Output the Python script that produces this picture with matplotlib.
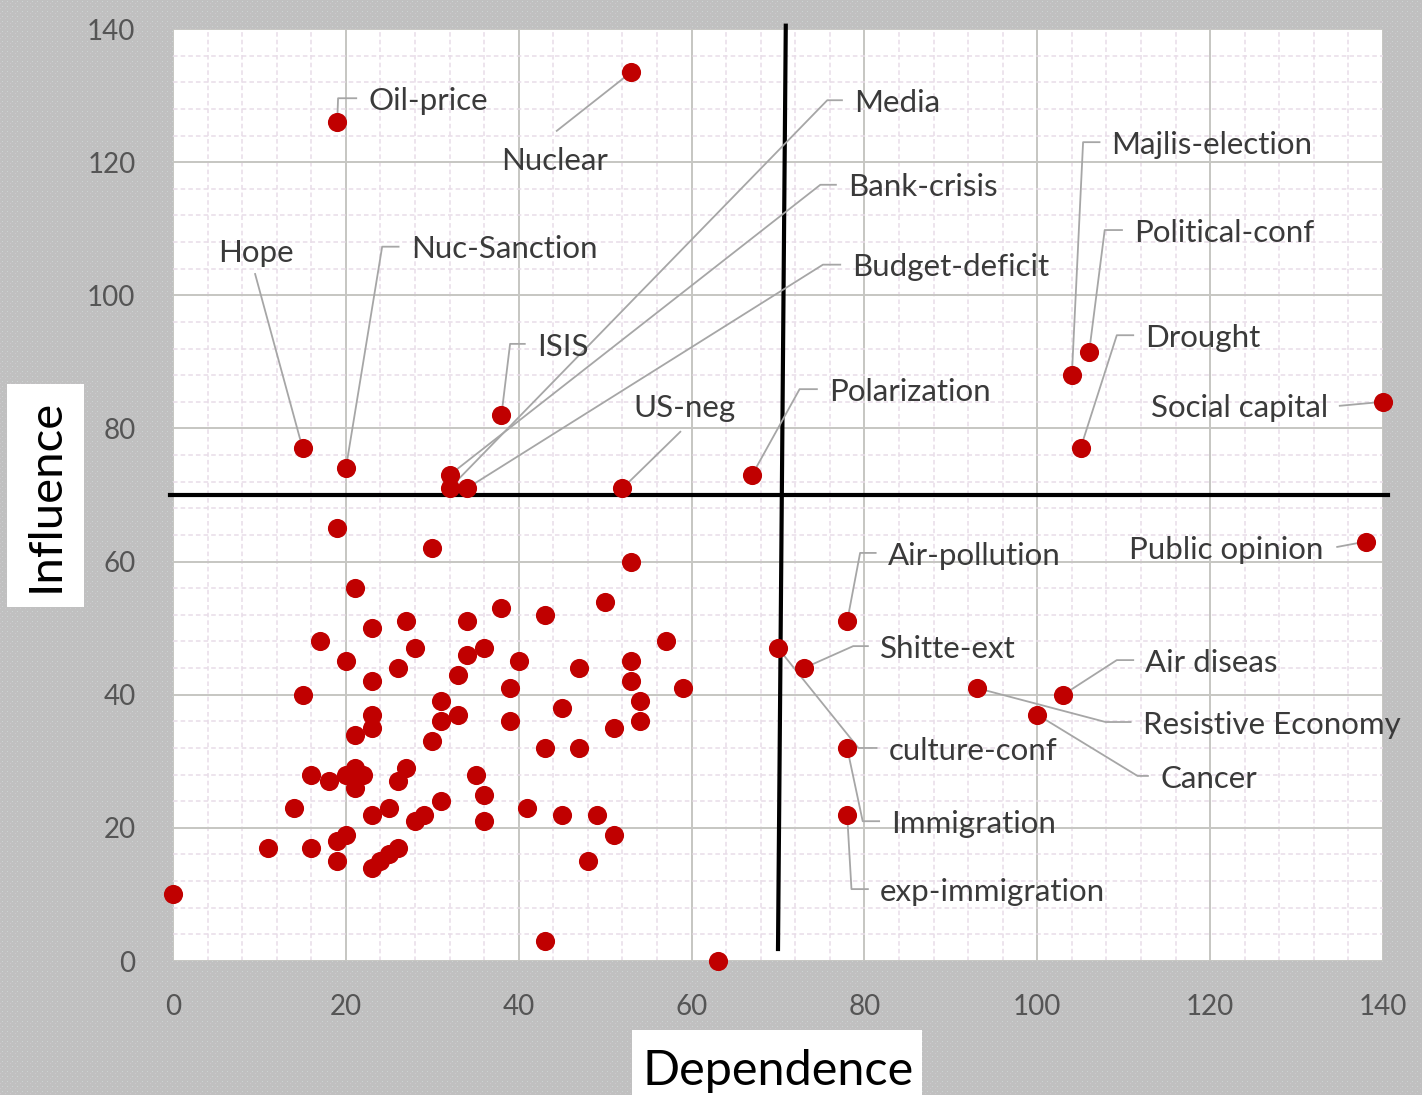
import numpy as np
import matplotlib
matplotlib.use('Agg')
from matplotlib import pyplot as plt
from matplotlib.patches import Rectangle
from matplotlib.ticker import MultipleLocator

plt.rcParams['font.family'] = ['Lato', 'DejaVu Sans']

# 标注的变量 (名称, 依赖度, 影响度)
names = ['Oil-price', 'Nuclear', 'Hope', 'Nuc-Sanction', 'ISIS', 'Media',
         'Bank-crisis', 'Budget-deficit', 'US-neg', 'Polarization',
         'Majlis-election', 'Political-conf', 'Drought', 'Social capital',
         'Public opinion', 'Air-pollution', 'Shitte-ext', 'culture-conf',
         'Immigration', 'exp-immigration', 'Air diseas', 'Resistive Economy',
         'Cancer']
named_dep = [19, 53, 15, 20, 38, 32, 32, 34, 52, 67, 104, 106, 105, 140,
             138, 78, 73, 70, 78, 78, 103, 93, 100]
named_inf = [126, 133.5, 77, 74, 82, 71, 73, 71, 71, 73, 88, 91.5, 77, 84,
             63, 51, 44, 47, 32, 22, 40, 41, 37]

# 未标注的变量
other_dep = [19, 30, 53, 21, 38, 50, 43, 23, 27, 34, 17, 28, 34, 36, 20, 40,
             57, 53, 47, 26, 33, 23, 53, 59, 39, 15, 54, 31, 45, 33, 31, 39,
             54, 23, 23, 21, 51, 30, 43, 47, 16, 18, 20, 21, 22, 21, 27, 26,
             35, 36, 14, 23, 25, 31, 28, 29, 36, 41, 45, 49, 51, 48, 20, 19,
             11, 16, 19, 23, 24, 25, 26, 0, 43, 63]
other_inf = [65, 62, 60, 56, 53, 54, 52, 50, 51, 51, 48, 47, 46, 47, 45, 45,
             48, 45, 44, 44, 43, 42, 42, 41, 41, 40, 39, 39, 38, 37, 36, 36,
             36, 37, 35, 34, 35, 33, 32, 32, 28, 27, 28, 29, 28, 26, 29, 27,
             28, 25, 23, 22, 23, 24, 21, 22, 21, 23, 22, 22, 19, 15, 19, 18,
             17, 17, 15, 14, 15, 16, 17, 10, 3, 0]

cut = 70  # 象限分界

# 标签位置: (文字x, 文字y, 对齐, 引线折点x 或 None)
label_pos = [
    (22.6, 129.6, 'left', 19.1), (44.2, 120.5, 'center', None),
    (5.2, 106.8, 'left', None), (27.5, 107.3, 'left', 24.2),
    (42.1, 92.7, 'left', 39.0), (78.8, 129.3, 'left', 75.7),
    (78.1, 116.6, 'left', 74.9), (78.6, 104.6, 'left', 75.2),
    (53.3, 83.4, 'left', None), (75.9, 85.9, 'left', 72.5),
    (108.6, 123.0, 'left', 105.3), (111.2, 109.8, 'left', 107.8),
    (112.5, 94.0, 'left', 109.2), (133.6, 83.4, 'right', None),
    (133.1, 62.2, 'right', None), (82.7, 61.3, 'left', 79.5),
    (81.8, 47.3, 'left', 78.7), (82.8, 32.0, 'left', 79.3),
    (83.1, 21.0, 'left', 79.8), (81.8, 10.8, 'left', 78.5),
    (112.5, 45.2, 'left', 109.2), (112.2, 35.9, 'left', 107.9),
    (114.2, 27.8, 'left', 111.6),
]
# 无折点的引线起点
leader_start = {1: (44.4, 124.7), 2: (9.5, 103.2), 8: (58.7, 79.5),
                13: (135.0, 83.4), 14: (134.7, 62.2)}

W, H = 1422, 1095
fig = plt.figure(figsize=(W / 100, H / 100), dpi=100)

# 灰色点状背景
bg = np.full((H, W, 3), 0.753)
bg[1::5, 2::5] = [0.80, 0.83, 0.83]
bg[3::5, 0::5] = [0.80, 0.78, 0.80]
fig.figimage(bg, 0, 0, zorder=-10)

ax = fig.add_axes([173 / W, 1 - 961 / H, 1210 / W, 932 / H])
ax.set_facecolor('white')
ax.set_xlim(0, 140)
ax.set_ylim(0, 140)
ax.xaxis.set_major_locator(MultipleLocator(20))
ax.yaxis.set_major_locator(MultipleLocator(20))
ax.xaxis.set_minor_locator(MultipleLocator(4))
ax.yaxis.set_minor_locator(MultipleLocator(4))
ax.grid(which='minor', color='#e8dde8', lw=1.1, ls=(0, (3, 2)))
ax.grid(which='major', color='#c6c6c2', lw=1.4)
ax.set_axisbelow(True)
for s in ax.spines.values():
    s.set_visible(False)
ax.tick_params(which='both', length=0)
ax.tick_params(axis='x', pad=24, labelsize=20, labelcolor='#555555')
ax.tick_params(axis='y', pad=27, labelsize=20, labelcolor='#555555')

# 分界线
ax.plot([-0.4, 140.6], [cut, cut], color='black', lw=3, clip_on=False, zorder=3)
ax.plot([cut, cut + 0.9], [1.8, 140.5], color='black', lw=3, clip_on=False, zorder=3)

# 引线和标签
for i, name in enumerate(names):
    tx, ty, ha, elbow = label_pos[i]
    px, py = named_dep[i], named_inf[i]
    if elbow is not None:
        xs = [tx - 1.4, elbow, px]
        ys = [ty, ty, py]
    else:
        sx, sy = leader_start[i]
        xs = [sx, px]
        ys = [sy, py]
    ax.plot(xs, ys, color='#a6a6a6', lw=1.3, zorder=4, clip_on=False)
    ax.text(tx, ty - 0.4, name, ha=ha, va='center', fontsize=22.5,
            color='#3a3a3a', zorder=6)

ax.scatter(other_dep, other_inf, s=190, color='#c00000', zorder=5, clip_on=False, linewidths=0)
ax.scatter(named_dep, named_inf, s=190, color='#c00000', zorder=5, clip_on=False, linewidths=0)

# 坐标轴标题 (白底)
fig.patches.append(Rectangle((7 / W, 1 - 607 / H), 77 / W, 223 / H,
                             transform=fig.transFigure, facecolor='white',
                             edgecolor='none', zorder=8))
fig.text(46 / W, 1 - 495 / H, 'Influence', rotation=90, ha='center', va='center',
         fontsize=34, color='black', zorder=9)
fig.patches.append(Rectangle((632 / W, 0), 290 / W, 65 / H,
                             transform=fig.transFigure, facecolor='white',
                             edgecolor='none', zorder=8))
fig.text(778 / W, 1 - 1071 / H, 'Dependence', ha='center', va='center',
         fontsize=35, color='black', zorder=9)

fig.savefig('out.png', dpi=100)
